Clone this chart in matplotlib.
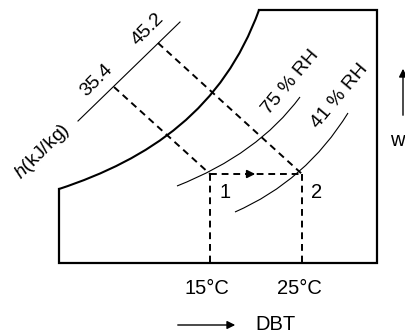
import matplotlib.pyplot as plt
from matplotlib.path import Path
from matplotlib.patches import PathPatch

plt.rcParams['font.family'] = ['Liberation Sans', 'DejaVu Sans']
plt.rcParams['mathtext.fontset'] = 'custom'
plt.rcParams['mathtext.it'] = 'Liberation Sans:italic'
plt.rcParams['mathtext.rm'] = 'Liberation Sans'

# schematic coordinates (pixels, y down)
box_x = [259, 377, 377, 59, 59]
box_y = [10, 10, 263, 263, 189]
sat_curve = [(59, 189), (150, 159), (223, 109), (259, 10)]   # cubic bezier
rh75 = [(177, 186), (258, 154), (300, 97)]                   # quadratic bezier
rh41 = [(235, 212), (306, 181), (348, 113)]
rh_labels = ['75 % RH', '41 % RH']
rh_label_pos = [(291, 82), (340, 96)]

h_axis = [(78, 121), (180, 22)]
h_values = ['35.4', '45.2']
h_ticks = [(114, 87), (158, 43)]
h_label_pos = [(97, 80), (148, 29)]

states = ['1', '2']
state_pts = [(210, 174), (302, 174)]
temps = ['15°C', '25°C']

fs = 14.5

fig = plt.figure(figsize=(4.05, 3.33), dpi=100)
ax = fig.add_axes([0, 0, 1, 1])
ax.set_xlim(0, 405)
ax.set_ylim(333, 0)
ax.axis('off')

ax.plot(box_x, box_y, color='black', lw=1.6, solid_joinstyle='miter')
ax.add_patch(PathPatch(Path(sat_curve, [Path.MOVETO, Path.CURVE4, Path.CURVE4, Path.CURVE4]),
                       fc='none', ec='black', lw=1.5))
for pts in (rh75, rh41):
    ax.add_patch(PathPatch(Path(pts, [Path.MOVETO, Path.CURVE3, Path.CURVE3]),
                           fc='none', ec='black', lw=0.8))
for lab, (x, y) in zip(rh_labels, rh_label_pos):
    ax.text(x, y, lab, rotation=50, ha='center', va='center', fontsize=fs - 0.5)

# enthalpy scale
ax.plot([p[0] for p in h_axis], [p[1] for p in h_axis], color='black', lw=0.8)
for lab, (x, y) in zip(h_values, h_label_pos):
    ax.text(x, y, lab, rotation=45, ha='center', va='center', fontsize=fs - 0.5)
ax.text(42, 152, r'$h$(kJ/kg)', rotation=45, ha='center', va='center', fontsize=fs - 0.5)

dash = dict(color='black', lw=1.4, ls=(0, (3.5, 2.5)))
for (hx, hy), (sx, sy) in zip(h_ticks, state_pts):
    ax.plot([hx, sx], [hy, sy], **dash)
    ax.plot([sx, sx], [sy, 263], **dash)
ax.plot([state_pts[0][0], state_pts[1][0]], [state_pts[0][1]] * 2, **dash)
ax.annotate('', xy=(258, 174), xytext=(244, 174),
            arrowprops=dict(arrowstyle='-|>', color='black', lw=1.2, mutation_scale=12))

for lab, (x, y) in zip(states, state_pts):
    ax.text(x + 15, y + 18, lab, ha='center', va='center', fontsize=fs)
for lab, (x, y) in zip(temps, state_pts):
    ax.text(x - 3, 288, lab, ha='center', va='center', fontsize=fs)

# DBT arrow
ax.annotate('', xy=(238, 325), xytext=(175, 325),
            arrowprops=dict(arrowstyle='-|>', color='black', lw=1.0, mutation_scale=12))
ax.text(255, 324, 'DBT', ha='left', va='center', fontsize=fs)

# w arrow at the right edge
ax.annotate('', xy=(403, 66), xytext=(403, 118),
            arrowprops=dict(arrowstyle='-|>', color='black', lw=1.0, mutation_scale=12))
ax.text(404.5, 141, 'w', ha='right', va='center', fontsize=fs)

fig.savefig('out.png', dpi=100)
